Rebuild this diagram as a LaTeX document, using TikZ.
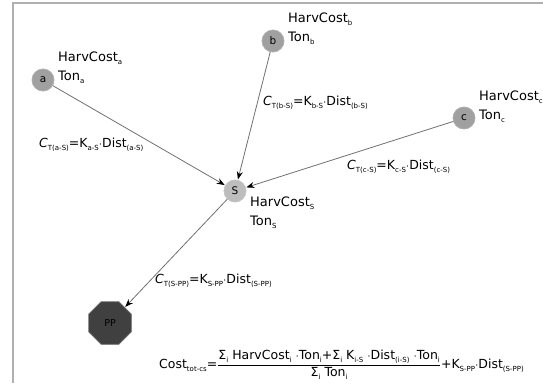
\documentclass[tikz,border=0pt]{standalone}
\usepackage{fontspec}
\setmainfont{DejaVu Sans}
\usetikzlibrary{shapes.geometric,arrows.meta}
\definecolor{nodegray}{HTML}{A0A0A0}
\definecolor{sgray}{HTML}{BDBDBD}
\definecolor{ppfill}{HTML}{404040}
\definecolor{framegray}{HTML}{B0B0B0}
\definecolor{edgegray}{HTML}{707070}
\newcommand{\lowx}[1]{\raisebox{-0.45ex}{\fontsize{7}{8}\selectfont #1}}
\tikzset{
  site/.style={circle, fill=nodegray, draw=nodegray!85!white, line width=0.8pt, minimum size=22pt, inner sep=0pt, font=\fontsize{10.5}{12}\selectfont},
  sitehub/.style={site, fill=sgray, draw=sgray!90!white},
  plant/.style={regular polygon, regular polygon sides=8, fill=ppfill, draw=ppfill!80!white, line width=0.8pt, minimum size=46pt, inner sep=0pt, font=\fontsize{9.5}{10}\selectfont},
  info/.style={anchor=west, align=left, inner sep=0pt, font=\fontsize{13}{19}\selectfont},
  elabel/.style={anchor=west, inner sep=0pt, font=\fontsize{12.5}{14}\selectfont},
  link/.style={draw=edgegray, line width=0.8pt, -{Stealth[length=8pt,width=6pt,fill=black,color=black]}, shorten >=0.5pt},
}
\begin{document}
\begin{tikzpicture}[x=1pt,y=-1pt]
\useasboundingbox (0,0) rectangle (543,383);
\draw[framegray, line width=1.6pt] (560,3) -- (13,3) -- (13,383);
% nodes
\node[site] (a) at (43,80) {a};
\node[site] (b) at (273,41) {b};
\node[site] (c) at (464,118) {c};
\node[sitehub] (S) at (235,191) {S};
\node[plant] (PP) at (110,323) {PP};
% node info
\node[info] (ia) at (58,68) {HarvCost\lowx{a}\\Ton\lowx{a}};
\node[info] (ib) at (288,29) {HarvCost\lowx{b}\\Ton\lowx{b}};
\node[info] (ic) at (479,107) {HarvCost\lowx{c}\\Ton\lowx{c}};
\node[info] (iS) at (250,213) {HarvCost\lowx{S}\\Ton\lowx{S}};
% edges
\draw[link] (a) -- (S);
\draw[link] (b) -- (S);
\draw[link] (c) -- (S);
\draw[link] (S) -- (PP);
% edge labels
\node[elabel] (la) at (39,145) {\textit{C}\lowx{T(a-S)}=K\lowx{a-S}$\cdot$Dist\lowx{(a-S)}};
\node[elabel] (lb) at (263,103) {\textit{C}\lowx{T(b-S)}=K\lowx{b-S}$\cdot$Dist\lowx{(b-S)}};
\node[elabel] (lc) at (347,167) {\textit{C}\lowx{T(c-S)}=K\lowx{c-S}$\cdot$Dist\lowx{(c-S)}};
\node[elabel] (lp) at (155,281) {\textit{C}\lowx{T(S-PP)}=K\lowx{S-PP}$\cdot$Dist\lowx{(S-PP)}};
% total cost formula
\node[anchor=west, inner sep=0pt, font=\fontsize{12.5}{14}\selectfont] (tot) at (159,365)
 {Cost\lowx{tot-cs}=$\displaystyle\frac{\hbox{Σ\lowx{i} HarvCost\lowx{i} $\cdot$Ton\lowx{i}+Σ\lowx{i} K\lowx{i-S} $\cdot$Dist\lowx{(i-S)} $\cdot$Ton\lowx{i}}}{\hbox{Σ\lowx{i} Ton\lowx{i}}}$+K\lowx{S-PP}$\cdot$Dist\lowx{(S-PP)}};
\end{tikzpicture}
\end{document}
